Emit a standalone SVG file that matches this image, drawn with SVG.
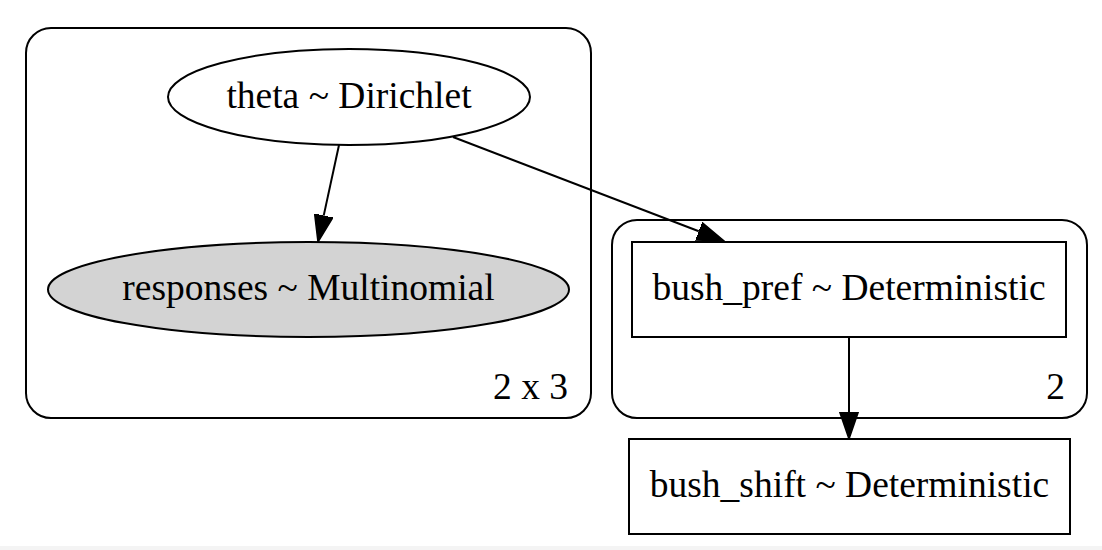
<svg xmlns="http://www.w3.org/2000/svg" width="1102" height="550" viewBox="0 0 1102 550">
  <style>
    .cl { fill: none; stroke: #000; stroke-width: 2; }
    .nd { fill: #fff; stroke: #000; stroke-width: 2; }
    .obs { fill: #d3d3d3; stroke: #000; stroke-width: 2; }
    .edge { fill: none; stroke: #000; stroke-width: 2; }
    text { font-family: "Liberation Serif", "Times New Roman", serif; font-size: 37.5px; fill: #000; }
    .c { text-anchor: middle; }
    .r { text-anchor: end; }
  </style>
  <defs>
    <marker id="arrow" markerUnits="userSpaceOnUse" markerWidth="28" markerHeight="20" viewBox="0 -10 28 20" refX="0" refY="0" orient="auto">
      <path d="M0,-9.3 L27,0 L0,9.3 z" fill="#000" stroke="#000" stroke-width="1.5"/>
    </marker>
  </defs>
  <rect x="0" y="0" width="1102" height="550" fill="#fff"/>
  <rect x="0" y="546" width="1102" height="4" fill="#f4f4f4"/>

  <g id="cluster_2x3">
    <rect class="cl" x="26" y="28" width="565" height="390" rx="25" ry="25"/>
    <text class="r" x="568" y="399">2 x 3</text>
  </g>
  <g id="cluster_2">
    <rect class="cl" x="612" y="220" width="475" height="198" rx="25" ry="25"/>
    <text class="r" x="1065" y="399">2</text>
  </g>

  <g id="theta">
    <ellipse class="nd" cx="349" cy="97" rx="181" ry="48"/>
    <text class="c" x="349" y="108">theta ~ Dirichlet</text>
  </g>
  <g id="responses">
    <ellipse class="obs" cx="308.5" cy="289.5" rx="260.5" ry="47.5"/>
    <text class="c" x="308.5" y="300">responses ~ Multinomial</text>
  </g>
  <g id="bush_pref">
    <rect class="nd" x="632" y="242" width="434" height="95"/>
    <text class="c" x="849" y="300">bush_pref ~ Deterministic</text>
  </g>
  <g id="bush_shift">
    <rect class="nd" x="629" y="439" width="441" height="95"/>
    <text class="c" x="849.5" y="497">bush_shift ~ Deterministic</text>
  </g>

  <g id="edges">
    <path class="edge" d="M339,145 L323.7,215.6" marker-end="url(#arrow)"/>
    <path class="edge" d="M453,137 L698.8,231.3" marker-end="url(#arrow)"/>
    <path class="edge" d="M849,337 L849,412" marker-end="url(#arrow)"/>
  </g>
</svg>
